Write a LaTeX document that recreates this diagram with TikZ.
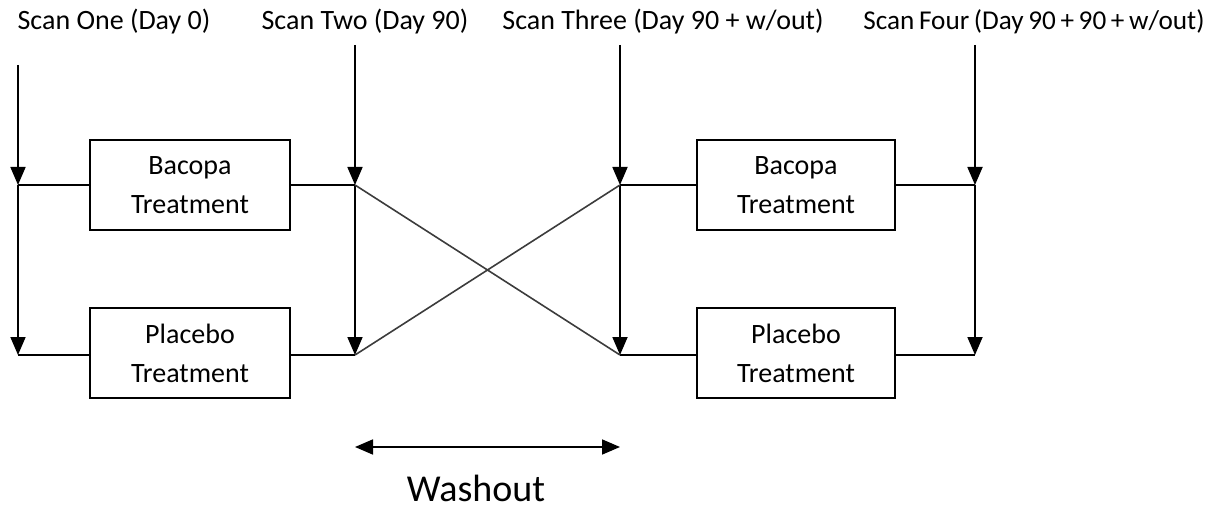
\documentclass[tikz,border=0pt]{standalone}
\usepackage{fontspec}
\setmainfont{Carlito}
\usetikzlibrary{arrows.meta,positioning}
\definecolor{crossgray}{RGB}{60,60,60}

\begin{document}
\begin{tikzpicture}[x=0.5pt,y=-0.5pt,>={Triangle[length=9pt,width=7.5pt]},line width=0.9pt,
    font=\fontsize{14}{19.5}\selectfont,every node/.style={align=center}]
    \useasboundingbox (0,0) rectangle (1228,508);
    % scan labels
    \node (scanA) at (114,22) {Scan One (Day 0)};
    \node (scanB) at (365,22) {Scan Two (Day 90)};
    \node (scanC) at (663,22) {Scan Three (Day 90 + w/out)};
    \node[font=\fontsize{13.6}{19.5}\selectfont] (scanD) at (1034,22) {\spaceskip 0.17em\relax Scan Four (Day 90 + 90 + w/out)};
    \coordinate (topA) at (18,65);
    \coordinate (topB) at (355,45);
    \coordinate (topC) at (620,45);
    \coordinate (topD) at (975,45);
    % junctions
    \coordinate (a1) at (18,185);  \coordinate (a2) at (18,355);
    \coordinate (b1) at (355,185); \coordinate (b2) at (355,355);
    \coordinate (c1) at (620,185); \coordinate (c2) at (620,355);
    \coordinate (d1) at (975,185); \coordinate (d2) at (975,355);
    % treatment boxes
    \node[draw,minimum width=100pt,minimum height=45pt] (bacA) at (190,185) {Bacopa\\Treatment};
    \node[draw,minimum width=100pt,minimum height=45pt] (plcA) at (190,353) {Placebo\\Treatment};
    \node[draw,minimum width=99pt,minimum height=45pt] (bacB) at (796,185) {Bacopa\\Treatment};
    \node[draw,minimum width=99pt,minimum height=45pt] (plcB) at (796,353) {Placebo\\Treatment};
    % scan arrows
    \draw[->] (topA)--(a1); \draw[->] (a1)--(a2);
    \draw[->] (topB)--(b1); \draw[->] (b1)--(b2);
    \draw[->] (topC)--(c1); \draw[->] (c1)--(c2);
    \draw[->] (topD)--(d1); \draw[->] (d1)--(d2);
    % arms
    \draw (a1)--(bacA.west |- a1); \draw (bacA.east |- b1)--(b1);
    \draw (a2)--(plcA.west |- a2); \draw (plcA.east |- b2)--(b2);
    \draw (c1)--(bacB.west |- c1); \draw (bacB.east |- d1)--(d1);
    \draw (c2)--(plcB.west |- c2); \draw (plcB.east |- d2)--(d2);
    % crossover
    \draw[crossgray,line width=0.8pt] (b1)--(c2);
    \draw[crossgray,line width=0.8pt] (b2)--(c1);
    % washout
    \coordinate (washL) at (355,447);
    \coordinate (washR) at (620,447);
    \draw[<->] (washL)--(washR);
    \node[font=\fontsize{19}{23}\selectfont,inner sep=0pt,align=left] (wash) at (476,488) {Washout};
\end{tikzpicture}
\end{document}
